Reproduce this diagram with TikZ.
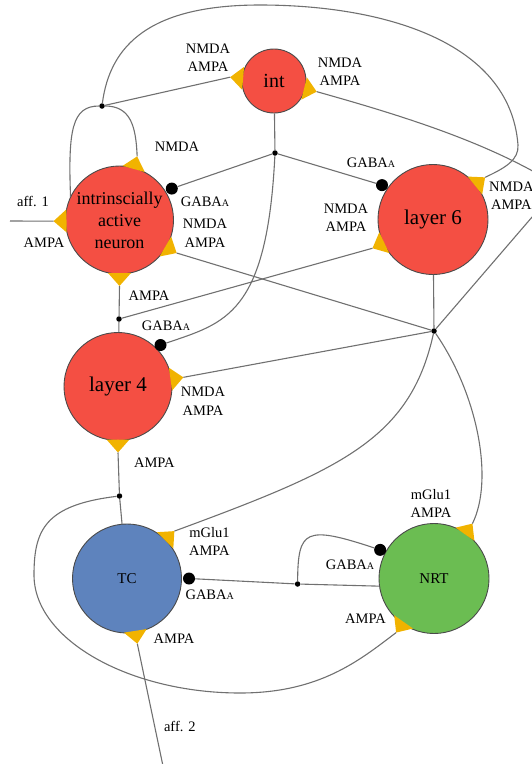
\documentclass[tikz,border=0pt]{standalone}
\usepackage{fontspec}
\setmainfont{Liberation Serif}
\usetikzlibrary{calc}
\definecolor{nred}{HTML}{F44F43}
\definecolor{nblue}{HTML}{5E83BD}
\definecolor{ngreen}{HTML}{6BBD52}
\definecolor{synyel}{HTML}{F1B300}
\definecolor{wiregray}{HTML}{707070}
\definecolor{rimgray}{HTML}{4A4A4A}
\newcommand{\gabaa}{GABA{\fontsize{10}{10}\selectfont A}}
\newcommand{\synapse}[4]{%
  \pgfmathsetmacro{\synA}{#3+12}%
  \pgfmathsetmacro{\synB}{#3-1}%
  \coordinate (#4) at ($(#1)+(#2:\synA)$);
  \fill[synfill] ($(#1)+(#2:\synB)+(#2+90:11.5)$) -- (#4) -- ($(#1)+(#2:\synB)+(#2-90:11.5)$) -- cycle;}
\begin{document}
\begin{tikzpicture}[x=1pt, y=-1pt,
  neuron/.style={circle, draw=rimgray, line width=0.9pt, inner sep=0pt, minimum size=#1, align=center},
  neuron/.default=108pt,
  wire/.style={draw=wiregray, line width=1.1pt},
  synfill/.style={fill=synyel},
  jn/.style={circle, fill=black, inner sep=0pt, minimum size=5.5pt},
  gaba/.style={circle, fill=black, inner sep=0pt, minimum size=12pt},
  lbl/.style={font=\fontsize{14.5}{18.5}\selectfont, align=center, inner sep=0pt},
  bigtxt/.style={font=\fontsize{21}{25}\selectfont},
  smalltxt/.style={font=\fontsize{15}{18}\selectfont}]
\useasboundingbox (0,0) rectangle (532,764);
\clip (0,0) rectangle (532,764);

% neurons
\node[neuron=64pt, fill=nred, font=\fontsize{20}{24}\selectfont] (int) at (274,81) {int};
\node[neuron=108pt, fill=nred, font=\fontsize{18}{22}\selectfont] (ian) at (119.5,220) {intrinscially\\active\\neuron};
\node[neuron=110pt, fill=nred, bigtxt] (l6) at (433,219.5) {layer 6};
\node[neuron=108pt, fill=nred, bigtxt] (l4) at (118,386.5) {layer 4};
\node[neuron=109pt, fill=nblue, smalltxt] (tc) at (127,578.5) {TC};
\node[neuron=110pt, fill=ngreen, smalltxt] (nrt) at (434,578.5) {NRT};

% junctions
\node[jn] (j1) at (102,106) {};
\node[jn] (j2) at (275,153) {};
\node[jn] (j3) at (434,331) {};
\node[jn] (j4) at (119,319) {};
\node[jn] (j5) at (119.5,496) {};
\node[jn] (j6) at (297.6,584) {};

% inhibitory terminals
\node[gaba] (g-ian) at ($(ian)+(-31:61)$) {};
\node[gaba] (g-l6) at ($(l6)+(214:61.5)$) {};
\node[gaba] (g-l4) at ($(l4)+(-44.3:59.4)$) {};
\node[gaba] (g-tc) at ($(tc)+(0:62)$) {};
\node[gaba] (g-nrt) at ($(nrt)+(208:61)$) {};

% other end points
\coordinate (ian-out) at ($(ian)+(205:54)$);
\coordinate (nrt-out) at ($(nrt)+(172:55)$);
\coordinate (aff1) at (10,221);
\coordinate (aff2) at (163,766);

% excitatory terminals
\synapse{int}{185}{32}{s-int-l}
\synapse{int}{14}{32}{s-int-r}
\synapse{ian}{285.5}{54}{s-ian-t}
\synapse{ian}{179}{54}{s-ian-l}
\synapse{ian}{30}{54}{s-ian-r}
\synapse{ian}{90}{54}{s-ian-b}
\synapse{l6}{321}{55}{s-l6-r}
\synapse{l6}{154.6}{55}{s-l6-l}
\synapse{l4}{352}{54}{s-l4-r}
\synapse{l4}{90}{54}{s-l4-b}
\synapse{tc}{315}{55}{s-tc-t}
\synapse{tc}{81}{54}{s-tc-b}
\synapse{nrt}{305}{55}{s-nrt-t}
\synapse{nrt}{125}{54}{s-nrt-l}

% connectors
\draw[wire] (int) -- (j2);
\draw[wire] (j2) -- (g-ian);
\draw[wire] (j2) -- (g-l6);
\draw[wire] (j2) .. controls (267,315) and (225,323) .. (g-l4);
\draw[wire] (j1) .. controls (72,106) and (68,130) .. (ian-out);
\draw[wire] (j1) .. controls (130,106) and (136,125) .. (s-ian-t);
\draw[wire] (j1) -- (s-int-l);
\draw[wire] (j1) .. controls (110,45) and (150,5) .. (260,5)
  .. controls (380,5) and (510,40) .. (518,145)
  .. controls (519,160) and (505,168) .. (s-l6-r);
\draw[wire] (s-int-r) .. controls (400,115) and (480,140) .. (545,178)
  .. controls (575,195) and (565,180) .. (545,202) -- (j3);
\draw[wire] (l6) -- (j3);
\draw[wire] (j3) -- (s-ian-r);
\draw[wire] (j3) -- (s-l4-r);
\draw[wire] (j3) .. controls (410,440) and (340,470) .. (s-tc-t);
\draw[wire] (j3) .. controls (478,395) and (494,480) .. (s-nrt-t);
\draw[wire] (l4) -- (j4);
\draw[wire] (j4) -- (s-ian-b);
\draw[wire] (j4) -- (s-l6-l);
\draw[wire] (tc) -- (j5);
\draw[wire] (j5) -- (s-l4-b);
\draw[wire] (j5) .. controls (45,505) and (34,530) .. (34,575)
  .. controls (34,640) and (130,693) .. (240,693)
  .. controls (320,693) and (360,660) .. (s-nrt-l);
\draw[wire] (nrt-out) -- (j6);
\draw[wire] (j6) -- (g-tc);
\draw[wire] (j6) .. controls (298,530) and (305,525) .. (g-nrt);
\draw[wire] (aff2) -- (s-tc-b);
\draw[wire] (aff1) -- (s-ian-l);

% labels
\node[lbl] (t1) at (208,57.5) {NMDA\\AMPA};
\node[lbl] (t2) at (340,71.5) {NMDA\\AMPA};
\node[lbl] (t3) at (177,146.7) {NMDA};
\node[lbl] (t4) at (205,201.7) {\gabaa};
\node[lbl] (t5) at (205,233.2) {NMDA\\AMPA};
\node[lbl] (t6) at (33,201.7) {aff. 1};
\node[lbl] (t7) at (44,243) {AMPA};
\node[lbl] (t8) at (149,296) {AMPA};
\node[lbl] (t9) at (371,162.3) {\gabaa};
\node[lbl] (t10) at (346,217.8) {NMDA\\AMPA};
\node[lbl, anchor=west] (t11) at (489,195.9) {NMDA\\AMPA};
\node[lbl] (t12) at (166,326) {\gabaa};
\node[lbl] (t13) at (203,401.2) {NMDA\\AMPA};
\node[lbl] (t14) at (154.4,462.3) {AMPA};
\node[lbl] (t15) at (209.4,541.5) {mGlu1\\AMPA};
\node[lbl] (t16) at (209.7,595) {\gabaa};
\node[lbl] (t17) at (174,638.3) {AMPA};
\node[lbl] (t18) at (179.8,726) {aff. 2};
\node[lbl] (t19) at (431,503.4) {mGlu1\\AMPA};
\node[lbl] (t20) at (350,565) {\gabaa};
\node[lbl] (t21) at (365.5,619) {AMPA};
\end{tikzpicture}
\end{document}
